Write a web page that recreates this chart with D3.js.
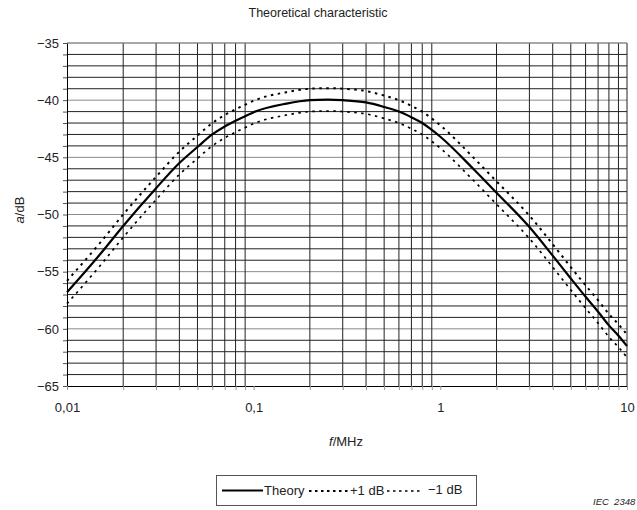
<!DOCTYPE html>
<html><head><meta charset="utf-8">
<script src="https://cdn.jsdelivr.net/npm/d3@7"></script>
<style>
html,body{margin:0;padding:0;background:#fff;}
svg{display:block;font-family:"Liberation Sans",Arial,sans-serif;}
</style></head>
<body>
<svg id="chart" width="637" height="510"></svg>
<script>
// ---- data ----
const freqMHz = [0.01, 0.015, 0.02, 0.03, 0.04, 0.05, 0.06, 0.07, 0.08, 0.09, 0.1, 0.15, 0.2, 0.25, 0.3, 0.4, 0.5, 0.6, 0.7, 0.8, 0.9, 1, 1.5, 2, 3, 4, 5, 6, 7, 8, 9, 10];
const theory = [-56.8, -53.5, -51.0, -47.7, -45.5, -44.1, -43.0, -42.3, -41.8, -41.4, -41.05, -40.3, -40.0, -39.95, -40.0, -40.2, -40.6, -41.0, -41.5, -42.0, -42.6, -43.2, -46.0, -48.1, -51.1, -53.6, -55.6, -57.2, -58.5, -59.7, -60.6, -61.5];
const plus1 = [-55.8, -52.5, -50.0, -46.7, -44.5, -43.1, -42.0, -41.3, -40.8, -40.4, -40.05, -39.3, -39.0, -38.95, -39.0, -39.2, -39.6, -40.0, -40.5, -41.0, -41.6, -42.2, -45.0, -47.1, -50.1, -52.6, -54.6, -56.2, -57.5, -58.7, -59.6, -60.5];
const minus1 = [-57.8, -54.5, -52.0, -48.7, -46.5, -45.1, -44.0, -43.3, -42.8, -42.4, -42.05, -41.3, -41.0, -40.95, -41.0, -41.2, -41.6, -42.0, -42.5, -43.0, -43.6, -44.2, -47.0, -49.1, -52.1, -54.6, -56.6, -58.2, -59.5, -60.7, -61.6, -62.5];
const xTickValues = [0.01, 0.1, 1, 10];
const xTickLabels = ["0,01", "0,1", "1", "10"];
const yTickValues = [-35, -40, -45, -50, -55, -60, -65];
const yTickLabels = ["\u221235", "\u221240", "\u221245", "\u221250", "\u221255", "\u221260", "\u221265"];
const seriesNames = ["Theory", "+1 dB", "\u22121 dB"];
const titleText = "Theoretical characteristic";

// ---- layout ----
const svg = d3.select("#chart");
const L = 67, R = 627, T = 43, B = 386;
const x = d3.scaleLog().domain([0.01, 10]).range([L, R]);
const y = d3.scaleLinear().domain([-65, -35]).range([B, T]);

// minor grid values
const xGrid = [];
[0.01, 0.1, 1].forEach(d => { for (let k = 2; k <= 9; k++) xGrid.push(+(d * k).toPrecision(3)); });
const yGrid = d3.range(-64, -34, 1);

const grid = svg.append("g");
grid.selectAll("line.h").data(yGrid).join("line")
  .attr("x1", L).attr("x2", R)
  .attr("y1", d => y(d)).attr("y2", d => y(d))
  .attr("stroke", d => d % 5 === 0 ? "#8a8a8a" : "#222").attr("stroke-width", 1);
grid.selectAll("line.v").data(xGrid.concat([10])).join("line")
  .attr("y1", T).attr("y2", B)
  .attr("x1", d => x(d)).attr("x2", d => x(d))
  .attr("stroke", "#222").attr("stroke-width", 1);

// axes
const yAxis = d3.axisLeft(y).tickValues(d3.range(-65, -34, 1)).tickSize(4)
  .tickFormat(d => { const i = yTickValues.indexOf(d); return i >= 0 ? yTickLabels[i] : ""; });
const gy = svg.append("g").attr("transform", `translate(${L},0)`).call(yAxis);
gy.select(".domain").attr("stroke", "#000");
gy.selectAll(".tick line").attr("stroke", "#555");
gy.selectAll("text").attr("font-size", 13).attr("fill", "#222").attr("x", -8)
  .attr("font-family", "Liberation Sans, Arial, sans-serif");

const xAxis = d3.axisBottom(x).tickValues(xTickValues.concat(xGrid)).tickSize(4)
  .tickFormat(d => { const i = xTickValues.indexOf(d); return i >= 0 ? xTickLabels[i] : ""; });
const gx = svg.append("g").attr("transform", `translate(0,${B})`).call(xAxis);
gx.select(".domain").attr("stroke", "#000");
gx.selectAll(".tick line").attr("stroke", "#999");
gx.selectAll("text").attr("font-size", 13).attr("fill", "#222").attr("y", 17)
  .attr("font-family", "Liberation Sans, Arial, sans-serif");

// top line
svg.append("line").attr("x1", L).attr("x2", R).attr("y1", T).attr("y2", T).attr("stroke", "#8a8a8a");

// curves
const line = vals => d3.line().x((d, i) => x(freqMHz[i])).y(d => y(d)).curve(d3.curveMonotoneX)(vals);
svg.append("path").attr("d", line(plus1)).attr("fill", "none").attr("stroke", "#000")
  .attr("stroke-width", 2).attr("stroke-dasharray", "2.5,4.5");
svg.append("path").attr("d", line(minus1)).attr("fill", "none").attr("stroke", "#000")
  .attr("stroke-width", 1.7).attr("stroke-dasharray", "2.5,4.5");
svg.append("path").attr("d", line(theory)).attr("fill", "none").attr("stroke", "#000")
  .attr("stroke-width", 2.2);

// title
svg.append("text").attr("x", 318).attr("y", 17).attr("text-anchor", "middle")
  .attr("font-size", 12.5).attr("fill", "#222").text(titleText);

// axis labels
const yl = svg.append("text").attr("transform", "translate(24,210) rotate(-90)")
  .attr("text-anchor", "middle").attr("font-size", 13).attr("fill", "#222");
yl.append("tspan").attr("font-style", "italic").text("a");
yl.append("tspan").text("/dB");
const xl = svg.append("text").attr("x", 346).attr("y", 446)
  .attr("text-anchor", "middle").attr("font-size", 13).attr("fill", "#222");
xl.append("tspan").attr("font-style", "italic").text("f");
xl.append("tspan").text("/MHz");

// legend
const lg = svg.append("g");
lg.append("rect").attr("x", 216.5).attr("y", 475.5).attr("width", 260).attr("height", 30)
  .attr("fill", "#fff").attr("stroke", "#555").attr("stroke-width", 1);
lg.append("line").attr("x1", 222).attr("x2", 263).attr("y1", 490.5).attr("y2", 490.5)
  .attr("stroke", "#000").attr("stroke-width", 2.2);
lg.append("text").attr("x", 264).attr("y", 495).attr("font-size", 13).attr("fill", "#222").text(seriesNames[0]);
lg.append("line").attr("x1", 309).attr("x2", 350).attr("y1", 491).attr("y2", 491)
  .attr("stroke", "#000").attr("stroke-width", 2).attr("stroke-dasharray", "2.5,3.5");
lg.append("text").attr("x", 350).attr("y", 495).attr("font-size", 13).attr("fill", "#222").text(seriesNames[1]);
lg.append("line").attr("x1", 387).attr("x2", 423).attr("y1", 491).attr("y2", 491)
  .attr("stroke", "#000").attr("stroke-width", 1.6).attr("stroke-dasharray", "2.5,3.5");
lg.append("text").attr("x", 428).attr("y", 494).attr("font-size", 13).attr("fill", "#222").text(seriesNames[2]);

// source note
svg.append("text").attr("x", 593).attr("y", 505).attr("font-size", 9.5).attr("font-style", "italic")
  .attr("fill", "#222").attr("xml:space", "preserve").style("white-space", "pre").text("IEC  2348");
</script>
</body></html>
